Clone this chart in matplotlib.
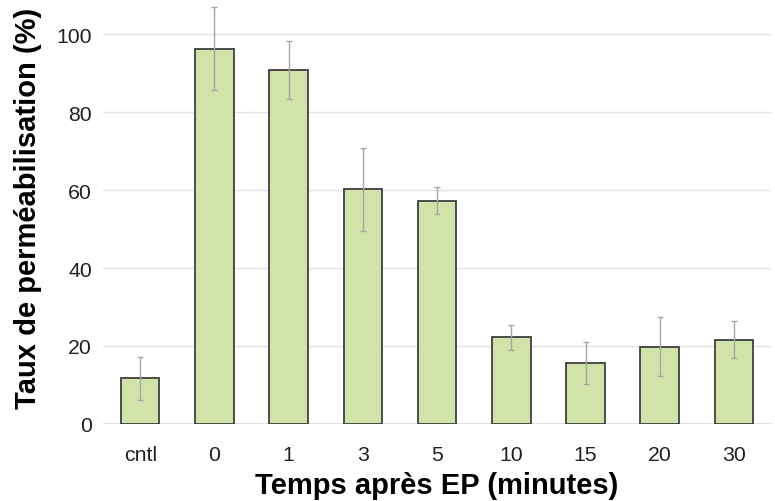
import matplotlib
matplotlib.use("Agg")
import matplotlib.pyplot as plt
import numpy as np

categories = ["cntl", "0", "1", "3", "5", "10", "15", "20", "30"]
values = [11.7, 96.2, 90.8, 60.2, 57.3, 22.3, 15.6, 19.8, 21.6]
errors = [5.6, 10.6, 7.4, 10.6, 3.5, 3.2, 5.4, 7.6, 4.7]
yticks = [0, 20, 40, 60, 80, 100]

plt.rcParams['font.family'] = ['Liberation Sans', 'DejaVu Sans']

fig = plt.figure(figsize=(7.75, 5.02), dpi=100)
ax = fig.add_axes([0.133, 0.1534, 0.862, 0.839])

x = np.arange(len(categories))
ax.bar(x, values, width=0.52, color="#d1e3a9", edgecolor="#3f3f3f", linewidth=1.3, zorder=3)
ax.errorbar(x, values, yerr=errors, fmt="none", ecolor="#a6a6a6", elinewidth=1.0,
            capsize=2.5, capthick=1.0, zorder=4)

ax.set_xlim(-0.5, len(categories) - 0.5)
ax.set_ylim(0, 108)
ax.set_yticks(yticks)
ax.set_xticks(x)
ax.set_xticklabels(categories)
ax.tick_params(axis="both", length=0, labelsize=15.3, colors="#222222")
ax.tick_params(axis="x", pad=15)
ax.tick_params(axis="y", pad=8)
ax.yaxis.grid(True, color="#e3e3e3", linewidth=1.0, zorder=0)
for s in ax.spines.values():
    s.set_visible(False)
ax.axhline(0, color="#d9d9d9", linewidth=1.2, zorder=2)

ax.set_xlabel("Temps après EP (minutes)", fontsize=21, fontweight="bold", labelpad=5)
ax.set_ylabel("Taux de perméabilisation (%)", fontsize=21, fontweight="bold")
ax.yaxis.set_label_coords(-0.092, 0.515)

fig.savefig("out.png", dpi=100)
